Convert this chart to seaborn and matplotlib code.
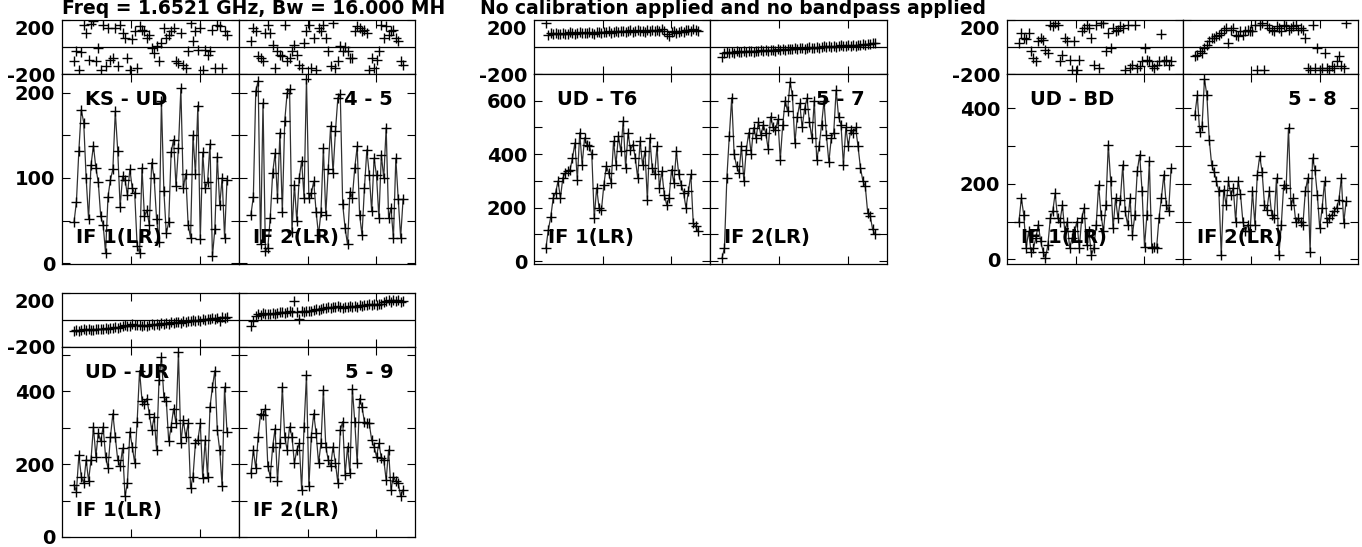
import numpy as np
import matplotlib
matplotlib.use('Agg')
import matplotlib.pyplot as plt
import seaborn as sns

# ---- data (one value per channel) ----
baselines = ['KS - UD', 'UD - T6', 'UD - BD', 'UD - UR']
baseline_nums = ['4 - 5', '5 - 7', '5 - 8', '5 - 9']
if_labels = ['IF 1(LR)', 'IF 2(LR)']
title_left = 'Freq = 1.6521 GHz, Bw = 16.000 MH'
title_right = 'No calibration applied and no bandpass applied'

ks_ud_if1_amp = [48, 72, 132, 180, 165, 100, 52, 115,
                 138, 112, 95, 55, 45, 12, 78, 98,
                 110, 178, 132, 66, 102, 98, 80, 110,
                 88, 82, 20, 12, 112, 55, 62, 45,
                 118, 100, 52, 25, 190, 85, 35, 48,
                 130, 145, 90, 135, 205, 88, 105, 45,
                 30, 150, 105, 185, 28, 130, 88, 95,
                 140, 8, 40, 125, 68, 100, 30, 98]
ks_ud_if1_phase = [-106, -32, -168, -35, 165, 104, -94, 170,
                   190, -106, -7, -168, 165, -143, 141, -94,
                   -81, 140, -143, 165, 104, 67, -81, -168,
                   60, 116, -156, 153, 128, 116, 67, 90,
                   -7, -45, 5, -106, 30, 141, 67, 92,
                   116, 141, -106, -118, 104, -131, -156, -32,
                   178, 42, 116, -20, 141, -168, -20, -57,
                   -32, 128, -156, 165, 153, -156, 116, 92]
ks_ud_if2_amp = [57, 78, 202, 214, 22, 188, 14, 18,
                 53, 106, 129, 76, 153, 60, 167, 200,
                 204, 37, 92, 49, 100, 120, 77, 216,
                 76, 82, 96, 60, 33, 60, 135, 57,
                 110, 161, 106, 155, 194, 198, 69, 41,
                 22, 84, 77, 112, 137, 57, 33, 88,
                 133, 104, 61, 123, 103, 53, 127, 100,
                 159, 53, 65, 29, 123, 75, 30, 75]
ks_ud_if2_phase = [42, 141, 116, -69, -81, -106, 104, 165,
                   104, 17, -156, -32, -57, -69, 165, -106,
                   -81, -32, 17, -57, -131, -156, 30, 116,
                   165, -156, 67, -168, 141, 116, 165, 67,
                   -32, -143, 178, -156, -106, 5, -32, 0,
                   -32, -81, -81, 116, 153, 141, 116, 128,
                   104, -168, -81, -156, -94, -32, 165, 67,
                   153, 92, 116, 128, 67, 42, -106, -131]

ud_t6_if1_amp = [49, 118, 165, 236, 255, 299, 236, 311,
                 330, 336, 342, 386, 442, 305, 480, 361,
                 461, 436, 430, 399, 161, 274, 199, 192,
                 286, 355, 330, 292, 449, 361, 467, 411,
                 524, 349, 480, 417, 436, 386, 311, 449,
                 361, 411, 230, 461, 349, 324, 430, 274,
                 336, 249, 211, 236, 342, 292, 411, 324,
                 286, 255, 199, 261, 324, 143, 130, 111]
ud_t6_if1_phase = [180, 92, 101, 96, 104, 99, 94, 106,
                   100, 97, 108, 102, 95, 105, 110, 101,
                   107, 103, 112, 106, 99, 110, 114, 105,
                   111, 108, 116, 103, 113, 118, 109, 115,
                   120, 112, 117, 123, 110, 119, 125, 116,
                   121, 114, 127, 120, 124, 118, 129, 122,
                   130, 117, 98, 80, 108, 115, 104, 112,
                   120, 113, 124, 128, 119, 131, 126, 122]
ud_t6_if2_amp = [11, 49, 311, 467, 611, 399, 355, 330,
                 430, 300, 417, 480, 402, 499, 460, 520,
                 470, 510, 480, 420, 540, 500, 490, 530,
                 380, 510, 600, 560, 670, 620, 440, 540,
                 590, 500, 570, 610, 520, 460, 600, 380,
                 430, 510, 600, 470, 370, 460, 480, 640,
                 540, 510, 360, 500, 430, 490, 480, 500,
                 430, 350, 300, 280, 180, 170, 120, 100]
ud_t6_if2_phase = [-72, -45, -38, -44, -36, -41, -33, -40,
                   -35, -30, -38, -28, -33, -36, -27, -31,
                   -25, -32, -22, -28, -24, -19, -26, -18,
                   -23, -15, -21, -12, -18, -14, -8, -16,
                   -10, -5, -13, -7, -2, -9, -4, 2,
                   -6, 0, 4, -3, 7, 1, 9, 3,
                   6, 12, 4, 10, 14, 8, 16, 11,
                   18, 13, 21, 16, 24, 19, 26, 30]

ud_bd_if1_amp = [100, 162, 118, 30, 74, 21, 30, 56,
                 92, 48, 21, 4, 39, 109, 127, 175,
                 109, 100, 144, 74, 100, 30, 56, 74,
                 100, 30, 109, 136, 39, 74, 12, 30,
                 92, 197, 118, 74, 144, 303, 206, 83,
                 162, 109, 158, 250, 127, 92, 162, 65,
                 118, 233, 277, 180, 34, 118, 259, 30,
                 34, 30, 109, 162, 224, 144, 127, 241]
ud_bd_if1_phase = [30, 104, 67, 60, 104, -32, -81, -106,
                   42, 67, 55, -20, -44, 165, 153, 178,
                   165, -106, -57, 67, 42, -94, -168, 42,
                   -168, -94, 116, 141, 165, 141, 67, -131,
                   165, -156, 178, 178, -32, 104, -7, 141,
                   116, 128, 153, 141, -168, 165, -156, -131,
                   165, -156, -143, -106, -7, -94, -106, -143,
                   -156, -131, -106, 95, -106, -94, -131, -106]
ud_bd_if2_amp = [382, 434, 338, 352, 477, 434, 316, 250,
                 232, 206, 180, 12, 184, 144, 206, 171,
                 189, 100, 206, 173, 100, 74, 92, 74,
                 180, 92, 224, 273, 232, 144, 131, 180,
                 118, 109, 215, 12, 92, 197, 189, 348,
                 144, 162, 100, 109, 100, 92, 180, 215,
                 21, 268, 237, 171, 83, 136, 206, 100,
                 109, 118, 127, 136, 158, 215, 96, 154]
ud_bd_if2_phase = [-69, -57, -32, -44, -7, 17, 42, 67,
                   67, 79, 91, 104, 128, 141, 30, 128,
                   141, 91, 79, 116, 91, 116, 128, 116,
                   116, 165, -168, 165, 178, -168, 165, 141,
                   128, 116, 153, 141, 116, 165, 153, 128,
                   141, 153, 165, 128, 141, 128, 67, -156,
                   -168, 165, -156, -7, -168, -156, -44, -156,
                   -168, -143, -156, -106, -69, -143, -156, 178]

ud_ur_if1_amp = [144, 125, 225, 166, 148, 212, 155, 212,
                 303, 221, 285, 263, 303, 221, 189, 275,
                 339, 275, 212, 194, 244, 112, 148, 289,
                 248, 203, 317, 457, 375, 366, 380, 339,
                 294, 330, 239, 430, 494, 384, 375, 263,
                 303, 353, 312, 507, 257, 321, 275, 312,
                 135, 166, 257, 266, 312, 162, 266, 166,
                 357, 412, 457, 294, 239, 139, 412, 289]
ud_ur_if1_phase = [-78, -72, -80, -75, -70, -76, -68, -74,
                   -72, -66, -70, -64, -68, -62, -66, -58,
                   -62, -55, -60, -50, -44, -38, -48, -42,
                   -30, -36, -40, -34, -46, -38, -42, -36,
                   -32, -38, -28, -34, -24, -30, -20, -26,
                   -18, -24, -16, -12, -20, -8, -14, -6,
                   -10, -2, -8, 2, -4, 6, 0, 10,
                   4, 14, 8, 18, -10, 20, 16, 22]
ud_ur_if2_amp = [175, 239, 189, 275, 339, 335, 353, 194,
                 166, 248, 298, 153, 257, 412, 275, 239,
                 303, 275, 203, 239, 257, 130, 303, 444,
                 139, 275, 339, 285, 203, 257, 403, 248,
                 212, 194, 248, 203, 148, 294, 317, 171,
                 248, 175, 407, 317, 203, 380, 357, 317,
                 312, 312, 266, 248, 221, 257, 217, 212,
                 157, 239, 130, 166, 153, 148, 112, 130]
ud_ur_if2_phase = [-44, -7, 30, 42, 38, 50, 44, 42,
                   46, 55, 48, 52, 58, 60, 55, 62,
                   66, 60, 141, 62, 5, 68, 58, 66,
                   70, 68, 72, 80, 74, 84, 88, 92,
                   96, 90, 100, 94, 104, 98, 92, 100,
                   96, 104, 98, 106, 100, 108, 104, 112,
                   108, 116, 110, 118, 114, 120, 116, 130,
                   138, 146, 134, 150, 142, 148, 136, 144]

amp_data = [[ks_ud_if1_amp, ks_ud_if2_amp], [ud_t6_if1_amp, ud_t6_if2_amp],
            [ud_bd_if1_amp, ud_bd_if2_amp], [ud_ur_if1_amp, ud_ur_if2_amp]]
phase_data = [[ks_ud_if1_phase, ks_ud_if2_phase], [ud_t6_if1_phase, ud_t6_if2_phase],
              [ud_bd_if1_phase, ud_bd_if2_phase], [ud_ur_if1_phase, ud_ur_if2_phase]]

amp_limits = [(-1, 222), (-11, 700), (-12, 490), (0, 522)]
amp_ticks = [[0, 50, 100, 150, 200], [0, 100, 200, 300, 400, 500, 600],
             [0, 100, 200, 300, 400], [0, 100, 200, 300, 400, 500]]
amp_ticklabels = [['0', '', '100', '', '200'], ['0', '', '200', '', '400', '', '600'],
                  ['0', '', '200', '', '400'], ['0', '', '200', '', '400', '']]

# ---- layout (pixel boxes of the reference) ----
W, H = 1362, 547
group_x = [(62, 239, 415), (534, 710, 887), (1007, 1183, 1358), (62, 239, 415)]
group_y = [(20, 74, 264), (20, 74, 264), (20, 74, 264), (293, 347, 537)]

sns.set_style('white')
plt.rcParams['font.family'] = ['DejaVu Sans']
plt.rcParams['font.weight'] = 'bold'
plt.rcParams['axes.linewidth'] = 0.9
plt.rcParams['text.color'] = 'black'
plt.rcParams['xtick.color'] = 'black'
plt.rcParams['ytick.color'] = 'black'

fig = plt.figure(figsize=(W / 100, H / 100), dpi=100)


def add_box(x0, x1, y0, y1):
    return fig.add_axes([x0 / W, 1 - y1 / H, (x1 - x0) / W, (y1 - y0) / H])


n = 64
step = 153 / (n - 1)
xlo, xhi = 1 - 12 / step, n + 12 / step
xt = [xlo + (xhi - xlo) * 0.39, xlo + (xhi - xlo) * 0.78]
fs = 14

for g in range(4):
    xs = group_x[g]
    ytop, ymid, ybot = group_y[g]
    for k in range(2):
        ax_p = add_box(xs[k], xs[k + 1], ytop, ymid)
        ax_a = add_box(xs[k], xs[k + 1], ymid, ybot)

        ph = phase_data[g][k]
        am = amp_data[g][k]
        x_ph = np.arange(1, len(ph) + 1)
        x_am = np.arange(1, len(am) + 1)

        ax_p.axhline(0, color='black', lw=0.9, zorder=1)
        sns.lineplot(x=x_ph, y=ph, ax=ax_p, estimator=None, errorbar=None,
                     linestyle='none', marker='+', markersize=7,
                     mec='black', mew=1.0, color='black')
        sns.lineplot(x=x_am, y=am, ax=ax_a, estimator=None, errorbar=None,
                     color='#303030', lw=0.9, marker='+', markersize=7,
                     mec='black', mew=1.0)

        for ax in (ax_p, ax_a):
            ax.set_xlim(xlo, xhi)
            ax.set_xticks(xt)
            ax.set_xlabel('')
            ax.set_ylabel('')
            ax.tick_params(axis='both', direction='in', top=True, right=True,
                           bottom=True, left=True, length=5.5, width=0.8,
                           labelbottom=False, labelleft=(k == 0),
                           labelsize=fs, pad=5, color='black', labelcolor='black')
            for s in ax.spines.values():
                s.set_color('black')

        ax_p.set_ylim(-200, 200)
        ax_p.set_yticks([-200, 200])
        ax_p.set_yticklabels(['-200', '200'])
        ax_a.set_ylim(*amp_limits[g])
        ax_a.set_yticks(amp_ticks[g])
        ax_a.set_yticklabels(amp_ticklabels[g])
        for lab in ax_p.get_yticklabels() + ax_a.get_yticklabels():
            lab.set_fontweight('bold')
        # top phase label hangs just under the title line
        ax_p.yaxis.get_major_ticks()[1].label1.set_verticalalignment('top')

        ax_a.text(0.08, 0.142, if_labels[k], transform=ax_a.transAxes,
                  fontsize=fs, fontweight='bold', ha='left', va='center', zorder=5)
        if k == 0:
            ax_a.text(0.13, 0.865, baselines[g], transform=ax_a.transAxes,
                      fontsize=fs, fontweight='bold', ha='left', va='center', zorder=5)
        else:
            ax_a.text(0.876, 0.865, baseline_nums[g], transform=ax_a.transAxes,
                      fontsize=fs, fontweight='bold', ha='right', va='center', zorder=5)

fig.text(62 / W, 1 - 13.5 / H, title_left, fontsize=13.5, fontweight='bold',
         ha='left', va='baseline')
fig.text(480 / W, 1 - 13.5 / H, title_right, fontsize=13.5, fontweight='bold',
         ha='left', va='baseline')

fig.savefig('out.png', dpi=100)
